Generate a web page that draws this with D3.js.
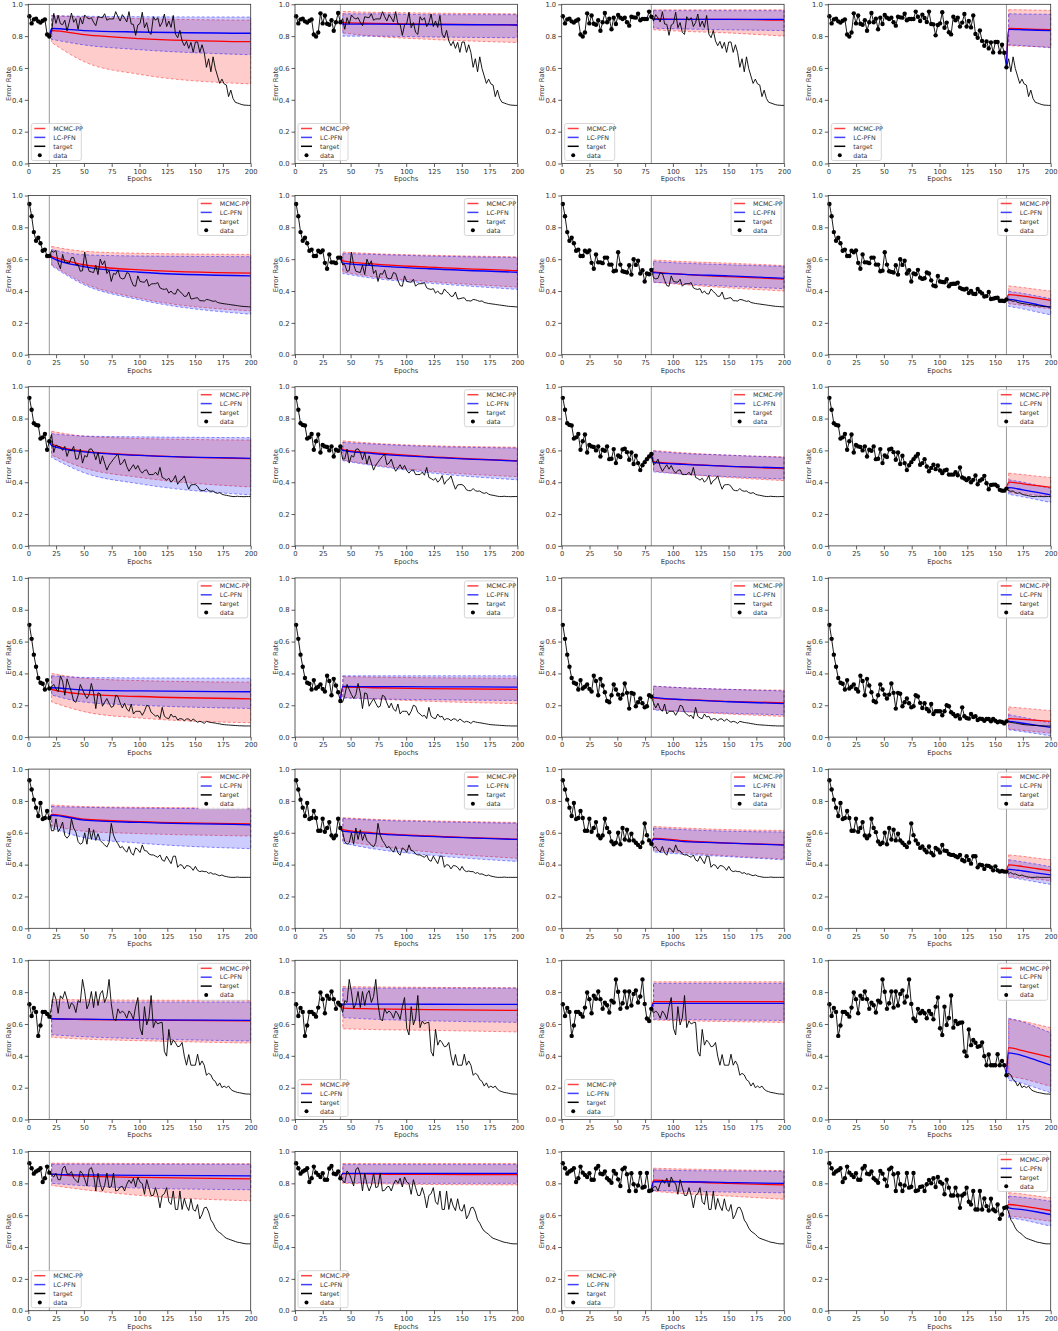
<!DOCTYPE html>
<html>
<head>
<meta charset="utf-8">
<script src="https://cdn.jsdelivr.net/npm/d3@7"></script>
<style>
  body { margin: 0; background: #fff; }
  text { font-family: "DejaVu Sans", sans-serif; }
</style>
</head>
<body>
<script>
// epochs of the observed/target curve (x grid)
const epochs = d3.range(101).map(i => 1 + i * 1.99);

// number of observed points shown in each column
const cutoffCounts = [10, 21, 41, 81];

// epochs where prediction values were read, per column
const knotEpochs = [
  [21, 50, 100, 200],
  [43, 70, 120, 200],
  [82.6, 110, 150, 200],
  [162.2, 175, 188, 200]
];

const xTicks = [0, 25, 50, 75, 100, 125, 150, 175, 200];
const yTicks = [0, 0.2, 0.4, 0.6, 0.8, 1.0];

const target1 = [0.925,0.88,0.905,0.91,0.893,0.885,0.897,0.905,0.81,0.797,
  0.823,0.943,0.88,0.93,0.878,0.872,0.9,0.834,0.887,0.945,
  0.887,0.91,0.843,0.916,0.876,0.933,0.916,0.908,0.916,0.887,
  0.866,0.922,0.918,0.916,0.941,0.9,0.908,0.908,0.908,0.954,
  0.922,0.895,0.935,0.914,0.889,0.954,0.876,0.874,0.805,0.87,
  0.88,0.95,0.853,0.885,0.824,0.811,0.922,0.9,0.916,0.86,
  0.885,0.939,0.86,0.895,0.855,0.93,0.813,0.79,0.836,0.77,
  0.74,0.767,0.723,0.761,0.698,0.763,0.763,0.698,0.746,0.696,
  0.604,
  0.658,0.576,0.67,0.597,0.55,0.503,0.53,0.50,0.493,0.42,
  0.461,0.409,0.385,0.38,0.375,0.37,0.367,0.366,0.365,0.365];

const target2 = [0.947,0.87,0.77,0.716,0.735,0.70,0.653,0.66,0.62,0.62,
  0.653,0.644,0.655,0.577,0.54,0.63,0.58,0.58,0.575,0.61,
  0.61,0.566,0.566,0.524,0.528,0.644,0.566,0.524,0.52,0.516,
  0.562,0.503,0.60,0.564,0.59,0.51,0.53,0.46,0.51,0.505,
  0.533,0.484,0.476,0.48,0.516,0.51,0.467,0.434,0.43,0.495,
  0.46,0.457,0.455,0.474,0.43,0.444,0.446,0.446,0.453,0.42,
  0.413,0.41,0.415,0.387,0.40,0.383,0.381,0.413,0.396,0.385,
  0.366,0.368,0.394,0.35,0.352,0.356,0.358,0.339,0.339,0.337,
  0.347,
  0.345,0.340,0.335,0.338,0.328,0.325,0.322,0.320,0.318,0.316,
  0.314,0.312,0.310,0.308,0.306,0.304,0.303,0.302,0.301,0.300];

const target3 = [0.93,0.855,0.77,0.76,0.756,0.674,0.682,0.703,0.604,0.657,
  0.70,0.587,0.634,0.625,0.621,0.60,0.625,0.562,0.604,0.598,
  0.625,0.545,0.547,0.608,0.52,0.568,0.558,0.606,0.61,0.589,
  0.541,0.587,0.514,0.566,0.52,0.476,0.507,0.526,0.545,0.562,
  0.577,0.51,0.52,0.545,0.499,0.469,0.49,0.51,0.482,0.505,
  0.474,0.457,0.474,0.478,0.448,0.448,0.448,0.463,0.444,0.493,
  0.43,0.423,0.413,0.425,0.40,0.415,0.442,0.387,0.41,0.419,
  0.44,0.394,0.356,0.383,0.385,0.385,0.375,0.352,0.347,0.347,
  0.36,
  0.347,0.343,0.345,0.335,0.33,0.335,0.325,0.32,0.318,0.315,
  0.312,0.31,0.31,0.312,0.31,0.31,0.309,0.31,0.31,0.31];

const target4 = [0.705,0.617,0.518,0.442,0.371,0.341,0.335,0.299,0.358,0.305,
  0.316,0.331,0.303,0.286,0.385,0.352,0.263,0.366,0.324,0.282,
  0.227,0.219,0.263,0.331,0.299,0.267,0.242,0.267,0.337,0.278,
  0.179,0.278,0.272,0.194,0.219,0.242,0.213,0.187,0.194,0.263,
  0.255,0.215,0.183,0.213,0.177,0.162,0.208,0.145,0.162,0.162,
  0.162,0.137,0.162,0.20,0.194,0.156,0.145,0.131,0.137,0.116,
  0.187,0.131,0.12,0.116,0.145,0.126,0.131,0.107,0.116,0.114,
  0.103,0.114,0.114,0.099,0.114,0.103,0.093,0.099,0.095,0.086,
  0.099,
  0.095,0.092,0.09,0.088,0.085,0.083,0.08,0.078,0.077,0.076,
  0.075,0.074,0.073,0.072,0.071,0.071,0.07,0.07,0.07,0.07];

const target5 = [0.93,0.872,0.808,0.758,0.705,0.787,0.686,0.693,0.737,0.693,
  0.613,0.613,0.688,0.606,0.63,0.667,0.583,0.566,0.583,0.688,
  0.63,0.604,0.545,0.528,0.537,0.60,0.528,0.63,0.558,0.619,
  0.552,0.594,0.552,0.537,0.524,0.51,0.539,0.659,0.585,0.552,
  0.531,0.505,0.514,0.493,0.478,0.514,0.474,0.459,0.505,0.495,
  0.476,0.524,0.488,0.486,0.467,0.461,0.461,0.453,0.446,0.461,
  0.429,0.421,0.453,0.429,0.406,0.453,0.453,0.383,0.40,0.396,
  0.373,0.394,0.392,0.383,0.364,0.389,0.364,0.356,0.36,0.356,
  0.356,
  0.345,0.35,0.34,0.342,0.335,0.33,0.335,0.328,0.325,0.322,
  0.32,0.32,0.32,0.322,0.32,0.32,0.32,0.32,0.32,0.32];

const target6 = [0.724,0.65,0.70,0.676,0.525,0.59,0.676,0.676,0.663,0.646,
  0.703,0.798,0.756,0.667,0.777,0.758,0.804,0.756,0.695,0.733,
  0.718,0.672,0.747,0.735,0.88,0.802,0.695,0.73,0.804,0.703,
  0.804,0.716,0.789,0.81,0.735,0.773,0.88,0.726,0.634,0.619,
  0.695,0.667,0.682,0.667,0.636,0.682,0.663,0.629,0.709,0.766,
  0.573,0.531,0.709,0.594,0.638,0.779,0.577,0.619,0.60,0.608,
  0.61,0.427,0.398,0.566,0.467,0.499,0.482,0.457,0.461,0.484,
  0.398,0.341,0.408,0.341,0.341,0.341,0.41,0.341,0.368,0.341,
  0.278,
  0.29,0.28,0.25,0.24,0.21,0.23,0.20,0.21,0.20,0.21,
  0.19,0.18,0.175,0.17,0.168,0.165,0.162,0.16,0.16,0.158];

const target7 = [0.926,0.895,0.861,0.874,0.882,0.895,0.808,0.832,0.905,0.867,
  0.853,0.84,0.863,0.823,0.823,0.893,0.909,0.861,0.857,0.874,
  0.832,0.819,0.804,0.878,0.861,0.825,0.783,0.888,0.899,0.857,
  0.752,0.863,0.794,0.752,0.787,0.865,0.773,0.779,0.865,0.752,
  0.756,0.777,0.781,0.752,0.794,0.821,0.80,0.832,0.777,0.84,
  0.808,0.798,0.731,0.823,0.773,0.724,0.724,0.773,0.724,0.646,
  0.724,0.735,0.773,0.684,0.667,0.752,0.636,0.636,0.752,0.636,
  0.705,0.657,0.629,0.703,0.636,0.625,0.667,0.577,0.604,0.646,
  0.65,
  0.62,0.57,0.55,0.52,0.50,0.49,0.48,0.465,0.455,0.45,
  0.445,0.44,0.435,0.43,0.428,0.425,0.422,0.42,0.42,0.42];

const targets = [target1, target2, target3, target4, target5, target6, target7];

// MCMC-PP predictions [row][col] -> values at knotEpochs[col]
const mcmcMean = [
  [[0.835,0.81,0.785,0.765],[0.885,0.88,0.875,0.87],[0.91,0.905,0.905,0.90],[0.848,0.846,0.843,0.84]],
  [[0.616,0.565,0.533,0.512],[0.59,0.57,0.55,0.528],[0.52,0.505,0.49,0.475],[0.377,0.368,0.355,0.341]],
  [[0.64,0.595,0.57,0.548],[0.605,0.585,0.56,0.535],[0.53,0.515,0.50,0.485],[0.40,0.39,0.378,0.368]],
  [[0.30,0.27,0.255,0.24],[0.314,0.31,0.305,0.30],[0.245,0.235,0.225,0.215],[0.116,0.111,0.105,0.099]],
  [[0.715,0.685,0.67,0.655],[0.62,0.60,0.58,0.56],[0.565,0.55,0.535,0.525],[0.398,0.388,0.374,0.362]],
  [[0.633,0.628,0.624,0.62],[0.70,0.695,0.69,0.685],[0.74,0.74,0.74,0.74],[0.451,0.432,0.41,0.39]],
  [[0.858,0.845,0.837,0.828],[0.86,0.858,0.856,0.855],[0.82,0.81,0.80,0.79],[0.667,0.657,0.643,0.629]]
];
const mcmcLow = [
  [[0.76,0.64,0.56,0.50],[0.82,0.80,0.78,0.76],[0.84,0.83,0.82,0.80],[0.74,0.737,0.734,0.73]],
  [[0.565,0.45,0.355,0.275],[0.52,0.49,0.46,0.425],[0.455,0.44,0.42,0.40],[0.32,0.31,0.298,0.288]],
  [[0.57,0.49,0.43,0.37],[0.54,0.51,0.47,0.435],[0.47,0.45,0.43,0.41],[0.335,0.326,0.318,0.31]],
  [[0.22,0.16,0.12,0.09],[0.25,0.24,0.225,0.21],[0.175,0.16,0.145,0.13],[0.05,0.042,0.033,0.025]],
  [[0.645,0.61,0.595,0.58],[0.55,0.52,0.48,0.44],[0.49,0.475,0.455,0.435],[0.324,0.317,0.308,0.299]],
  [[0.516,0.505,0.495,0.48],[0.57,0.565,0.56,0.55],[0.625,0.62,0.615,0.61],[0.272,0.256,0.232,0.208]],
  [[0.787,0.76,0.724,0.69],[0.80,0.797,0.793,0.79],[0.75,0.735,0.72,0.70],[0.594,0.585,0.573,0.562]]
];
const mcmcHigh = [
  [[0.93,0.92,0.91,0.90],[0.955,0.95,0.945,0.94],[0.965,0.965,0.965,0.965],[0.966,0.965,0.963,0.962]],
  [[0.68,0.65,0.637,0.63],[0.645,0.635,0.625,0.615],[0.595,0.585,0.575,0.56],[0.432,0.422,0.41,0.40]],
  [[0.72,0.69,0.675,0.665],[0.66,0.645,0.63,0.62],[0.60,0.585,0.57,0.56],[0.457,0.448,0.438,0.43]],
  [[0.40,0.37,0.355,0.345],[0.38,0.377,0.373,0.37],[0.32,0.31,0.30,0.295],[0.19,0.182,0.174,0.166]],
  [[0.775,0.765,0.76,0.755],[0.695,0.685,0.675,0.665],[0.64,0.63,0.62,0.615],[0.461,0.452,0.44,0.43]],
  [[0.753,0.752,0.75,0.748],[0.835,0.833,0.83,0.828],[0.865,0.865,0.865,0.865],[0.63,0.617,0.596,0.577]],
  [[0.927,0.926,0.925,0.923],[0.925,0.925,0.925,0.925],[0.895,0.89,0.885,0.88],[0.741,0.733,0.72,0.709]]
];

// LC-PFN predictions [row][col]
const pfnMean = [
  [[0.848,0.835,0.826,0.818],[0.875,0.875,0.873,0.87],[0.905,0.905,0.905,0.905],[0.842,0.84,0.837,0.835]],
  [[0.61,0.553,0.518,0.495],[0.575,0.56,0.54,0.518],[0.515,0.505,0.495,0.48],[0.347,0.333,0.315,0.297]],
  [[0.63,0.59,0.568,0.55],[0.60,0.58,0.557,0.533],[0.525,0.512,0.50,0.49],[0.366,0.352,0.336,0.32]],
  [[0.31,0.295,0.29,0.285],[0.318,0.317,0.316,0.314],[0.25,0.235,0.222,0.21],[0.099,0.087,0.074,0.061]],
  [[0.71,0.68,0.665,0.65],[0.61,0.595,0.577,0.558],[0.56,0.545,0.535,0.522],[0.37,0.36,0.347,0.335]],
  [[0.633,0.63,0.626,0.623],[0.725,0.725,0.724,0.723],[0.73,0.73,0.73,0.73],[0.419,0.40,0.37,0.341]],
  [[0.858,0.853,0.85,0.847],[0.862,0.862,0.862,0.862],[0.81,0.81,0.805,0.80],[0.646,0.635,0.62,0.604]]
];
const pfnLow = [
  [[0.78,0.745,0.715,0.683],[0.80,0.80,0.795,0.79],[0.85,0.845,0.84,0.835],[0.745,0.74,0.733,0.727]],
  [[0.558,0.44,0.345,0.254],[0.51,0.48,0.45,0.41],[0.455,0.445,0.43,0.415],[0.303,0.288,0.268,0.25]],
  [[0.555,0.46,0.39,0.32],[0.535,0.505,0.46,0.415],[0.465,0.45,0.435,0.42],[0.324,0.308,0.29,0.272]],
  [[0.265,0.22,0.20,0.18],[0.245,0.24,0.235,0.23],[0.17,0.16,0.15,0.14],[0.046,0.034,0.021,0.008]],
  [[0.63,0.57,0.535,0.50],[0.535,0.50,0.46,0.42],[0.48,0.465,0.45,0.43],[0.32,0.306,0.29,0.276]],
  [[0.532,0.52,0.508,0.493],[0.64,0.63,0.62,0.61],[0.63,0.628,0.625,0.622],[0.246,0.226,0.196,0.168]],
  [[0.80,0.785,0.77,0.76],[0.805,0.803,0.80,0.80],[0.755,0.75,0.745,0.74],[0.583,0.57,0.55,0.531]]
];
const pfnHigh = [
  [[0.928,0.925,0.922,0.92],[0.94,0.94,0.935,0.935],[0.96,0.96,0.96,0.96],[0.94,0.939,0.938,0.937]],
  [[0.66,0.628,0.62,0.616],[0.635,0.63,0.62,0.61],[0.585,0.575,0.565,0.555],[0.398,0.385,0.368,0.352]],
  [[0.705,0.69,0.685,0.68],[0.65,0.64,0.625,0.615],[0.595,0.58,0.57,0.555],[0.415,0.40,0.38,0.362]],
  [[0.385,0.375,0.372,0.37],[0.385,0.385,0.385,0.385],[0.32,0.31,0.30,0.29],[0.141,0.124,0.106,0.088]],
  [[0.765,0.76,0.755,0.75],[0.69,0.68,0.67,0.66],[0.63,0.62,0.61,0.605],[0.43,0.417,0.402,0.387]],
  [[0.738,0.738,0.738,0.738],[0.825,0.825,0.825,0.825],[0.855,0.855,0.855,0.855],[0.636,0.613,0.578,0.545]],
  [[0.92,0.92,0.92,0.92],[0.918,0.918,0.918,0.918],[0.885,0.88,0.878,0.875],[0.72,0.712,0.70,0.688]]
];

const legendLoc = [
  ['ll', 'll', 'll', 'll'],
  ['ur', 'ur', 'ur', 'ur'],
  ['ur', 'ur', 'ur', 'ur'],
  ['ur', 'ur', 'ur', 'ur'],
  ['ur', 'ur', 'ur', 'ur'],
  ['ur', 'll', 'll', 'ur'],
  ['ll', 'll', 'll', 'ur']
];

const legendItems = [
  {label: 'MCMC-PP', kind: 'line', color: 'red'},
  {label: 'LC-PFN', kind: 'line', color: 'blue'},
  {label: 'target', kind: 'line', color: 'black'},
  {label: 'data', kind: 'dot', color: 'black'}
];

const width = 1058, height = 1331;
const colX = [28.3, 295, 561.7, 828.3];
const rowY = [4.3, 195.5, 386.7, 577.9, 769.1, 960.3, 1151.5];
const axW = 222.4, axH = 159.2;

const svg = d3.select('body').append('svg')
  .attr('width', width).attr('height', height);

const x = d3.scaleLinear().domain([0, 200]).range([0, axW]);
const y = d3.scaleLinear().domain([0, 1]).range([axH, 0]);

const line = d3.line().x(d => x(d[0])).y(d => y(d[1]));
const smooth = d3.line().x(d => x(d[0])).y(d => y(d[1])).curve(d3.curveMonotoneX);
const area = d3.area().x(d => x(d[0])).y0(d => y(d[1])).y1(d => y(d[2])).curve(d3.curveMonotoneX);

targets.forEach((target, r) => {
  cutoffCounts.forEach((n, c) => {
    const g = svg.append('g').attr('transform', `translate(${colX[c]},${rowY[r]})`);
    const ks = knotEpochs[c];
    const lastE = epochs[n - 1], lastV = target[n - 1];

    const band = (lo, hi, color) => {
      g.append('path')
        .attr('d', area(ks.map((e, i) => [e, lo[i], hi[i]])))
        .attr('fill', color).attr('fill-opacity', 0.2)
        .attr('stroke', color).attr('stroke-opacity', 0.55)
        .attr('stroke-width', 0.8).attr('stroke-dasharray', '3,2');
    };
    band(mcmcLow[r][c], mcmcHigh[r][c], 'red');
    band(pfnLow[r][c], pfnHigh[r][c], 'blue');

    // cutoff marker
    g.append('line')
      .attr('x1', x(lastE)).attr('x2', x(lastE))
      .attr('y1', 0).attr('y2', axH)
      .attr('stroke', '#9a9a9a').attr('stroke-width', 1);

    const meanPath = (vals, color) => {
      g.append('path')
        .attr('d', smooth([[lastE, lastV]].concat(ks.map((e, i) => [e, vals[i]]))))
        .attr('fill', 'none').attr('stroke', color).attr('stroke-width', 1.3);
    };
    meanPath(mcmcMean[r][c], 'red');
    meanPath(pfnMean[r][c], 'blue');

    g.append('path')
      .attr('d', line(epochs.map((e, i) => [e, target[i]])))
      .attr('fill', 'none').attr('stroke', 'black').attr('stroke-width', 0.9);

    g.append('g').selectAll('circle')
      .data(target.slice(0, n))
      .join('circle')
      .attr('cx', (d, i) => x(epochs[i]))
      .attr('cy', d => y(d))
      .attr('r', 2.2)
      .attr('fill', 'black');

    // axes
    const xa = g.append('g').attr('transform', `translate(0,${axH})`)
      .call(d3.axisBottom(x).tickValues(xTicks).tickSize(3.5).tickPadding(2));
    const ya = g.append('g')
      .call(d3.axisLeft(y).tickValues(yTicks).tickFormat(d3.format('.1f')).tickSize(3.5).tickPadding(2));
    [xa, ya].forEach(a => {
      a.select('.domain').remove();
      a.selectAll('line').attr('stroke', '#333').attr('stroke-width', 0.8);
      a.selectAll('text').attr('font-size', 6.8).attr('fill', '#333')
        .attr('font-family', '"DejaVu Sans", sans-serif');
    });

    g.append('rect')
      .attr('width', axW).attr('height', axH)
      .attr('fill', 'none').attr('stroke', '#333').attr('stroke-width', 0.8);

    g.append('text')
      .attr('x', axW / 2).attr('y', axH + 18)
      .attr('text-anchor', 'middle').attr('font-size', 6.8).attr('fill', '#333')
      .text('Epochs');
    g.append('text')
      .attr('transform', `translate(${-17.5},${axH / 2}) rotate(-90)`)
      .attr('text-anchor', 'middle').attr('font-size', 6.8).attr('fill', '#333')
      .text('Error Rate');

    // legend
    const lw = 50, lh = 37;
    const lx = legendLoc[r][c] === 'ur' ? axW - lw - 3 : 3;
    const ly = legendLoc[r][c] === 'ur' ? 3 : axH - lh - 3;
    const lg = g.append('g').attr('transform', `translate(${lx},${ly})`);
    lg.append('rect')
      .attr('width', lw).attr('height', lh).attr('rx', 2)
      .attr('fill', 'white').attr('fill-opacity', 0.8)
      .attr('stroke', '#ccc').attr('stroke-width', 0.8);
    legendItems.forEach((it, i) => {
      const yy = 5 + i * 8.9;
      if (it.kind === 'line') {
        lg.append('line')
          .attr('x1', 3).attr('x2', 14).attr('y1', yy).attr('y2', yy)
          .attr('stroke', it.color).attr('stroke-width', 1.5)
          .attr('stroke-opacity', it.color === 'black' ? 1 : 0.75);
      } else {
        lg.append('circle').attr('cx', 8.5).attr('cy', yy).attr('r', 2)
          .attr('fill', it.color);
      }
      lg.append('text')
        .attr('x', 22).attr('y', yy + 2.3)
        .attr('font-size', 6.3).attr('fill', '#333')
        .text(it.label);
    });
  });
});
</script>
</body>
</html>
